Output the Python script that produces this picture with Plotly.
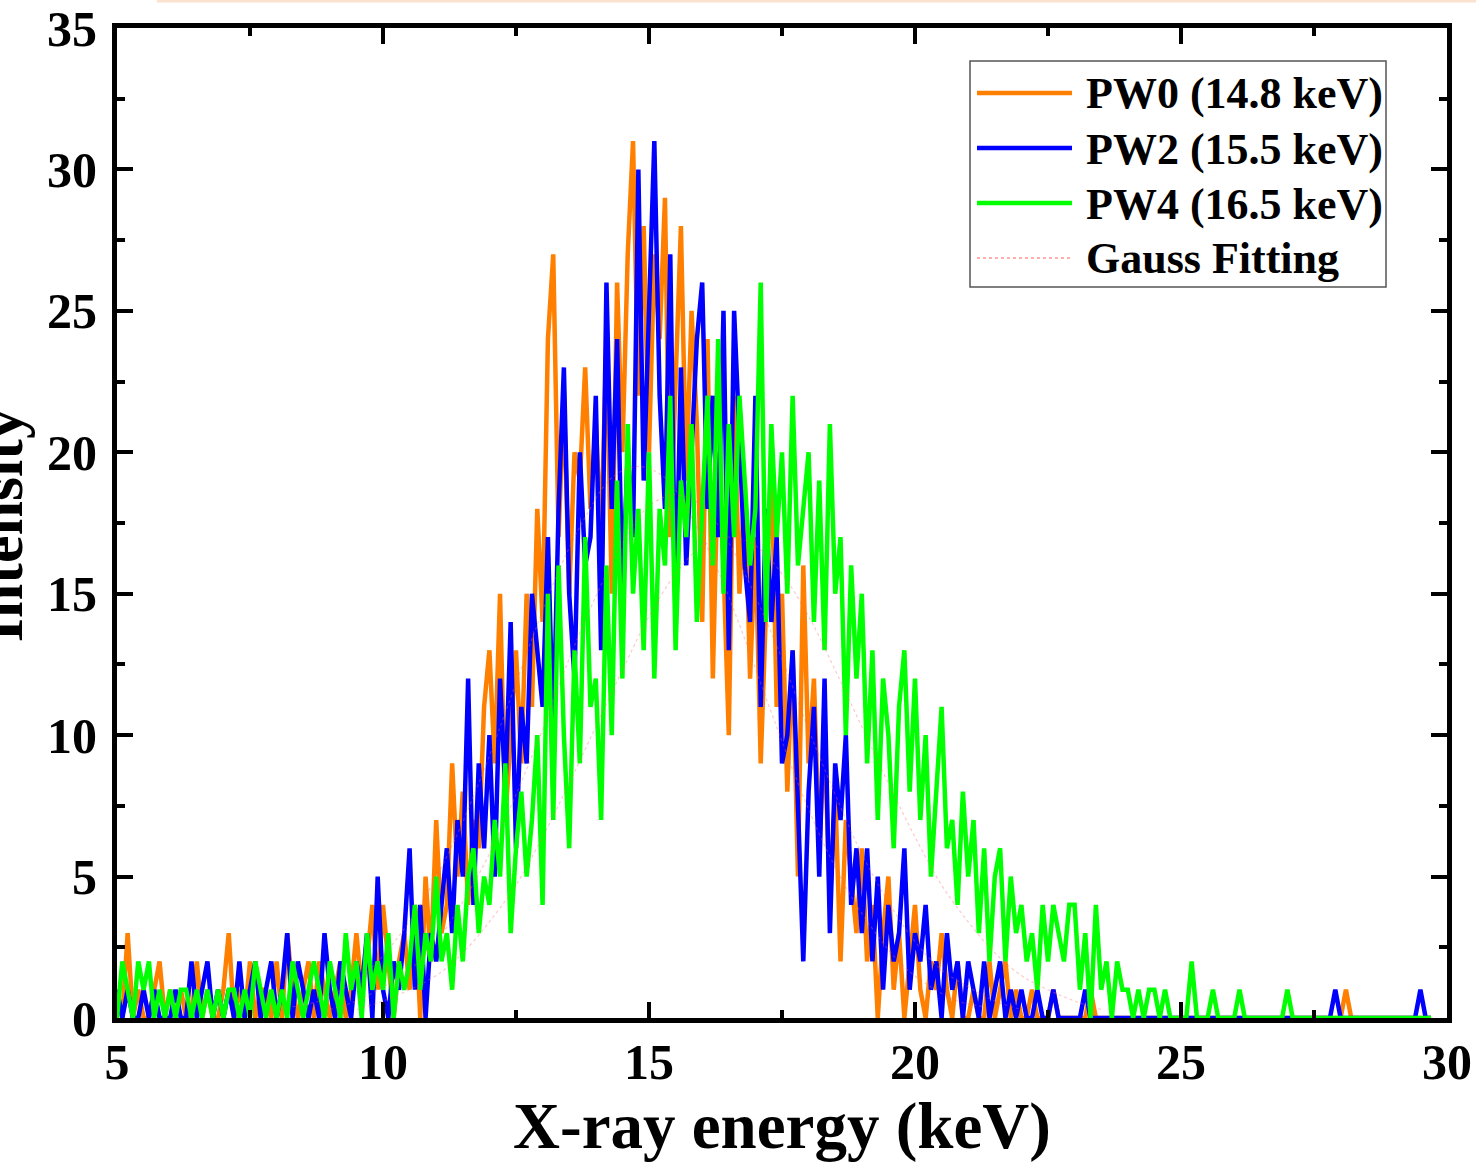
import plotly.graph_objects as go

# ---------------- data ----------------
X_START = 5.0
X_STEP = 0.1

pw0_counts = [
    1,0,3,0,1,0,0,1,2,0,   # 5.0
    1,0,1,0,0,2,0,1,0,0,   # 6.0
    1,3,0,1,0,2,0,1,1,0,   # 7.0
    2,0,3,1,0,1,2,0,2,1,   # 8.0
    0,1,2,0,1,3,1,2,4,1,   # 9.0
    4,2,0,2,3,1,4,0,5,2,   # 10.0
    7,3,4,9,5,8,4,7,6,11,  # 11.0
    13,9,15,7,10,13,9,15,11,18,   # 12.0
    14,24,27,17,22,15,20,19,23,18,  # 13.0
    21,17,24,15,26,20,27,31,22,28,  # 14.0
    20,27,24,29,17,22,28,19,25,21,  # 15.0
    14,24,12,20,16,10,22,15,19,12,  # 16.0
    17,9,14,20,11,15,8,13,5,16,     # 17.0
    9,12,6,10,4,8,2,7,5,3,          # 18.0
    6,2,4,0,3,5,1,3,0,2,            # 19.0
    4,1,0,2,1,3,1,0,2,0,            # 20.0
    0,1,0,0,2,0,1,2,0,1,            # 21.0
    0,0,1,0,0,0,1,0,0,0,            # 22.0
    0,0,0,1,0,0,0,0,0,0,            # 23.0
    0,0,0,0,0,0,0,0,0,0,            # 24.0
    0,0,0,0,0,0,0,0,0,0,            # 25.0
    0,0,0,0,0,0,0,0,0,0,            # 26.0
    0,0,0,0,0,0,0,0,0,0,            # 27.0
    0,1,0,0,0,0,0,0,0,0,            # 28.0
    0,0,0,0,0,0,0,0,                # 29.0
]

pw2_counts = [
    1,0,1,0,0,1,0,1,0,0,   # 5.0
    0,1,0,0,2,0,1,2,0,1,   # 6.0
    0,1,0,2,0,1,2,0,1,2,   # 7.0
    0,1,3,0,2,1,0,1,0,3,   # 8.0
    1,0,2,1,0,2,1,3,0,5,   # 9.0
    1,0,2,1,3,6,1,4,0,3,   # 10.0
    2,4,6,3,7,5,12,4,9,6,  # 11.0
    10,5,12,8,14,6,11,9,15,13,     # 12.0
    11,17,10,18,23,15,12,20,16,17, # 13.0
    22,13,26,18,24,15,20,17,30,19, # 14.0
    25,31,22,18,27,14,23,16,20,24, # 15.0
    26,18,22,17,25,13,25,20,16,14, # 16.0
    22,11,18,14,17,9,10,13,7,2,    # 17.0
    8,11,5,12,3,9,7,10,4,6,        # 18.0
    3,6,2,5,1,4,2,3,6,1,           # 19.0
    3,2,4,1,2,0,3,1,2,0,           # 20.0
    2,1,0,2,0,1,2,0,1,0,           # 21.0
    1,0,0,1,0,0,1,0,0,0,           # 22.0
    0,0,1,0,0,0,0,0,0,0,           # 23.0
    0,0,0,0,0,0,0,0,0,0,           # 24.0
    0,0,0,0,0,0,0,0,0,0,           # 25.0
    0,0,0,0,0,0,0,0,0,0,           # 26.0
    0,0,0,0,0,0,0,0,0,1,           # 27.0
    0,0,0,0,0,0,0,0,0,0,           # 28.0
    0,0,0,0,0,1,0,0,               # 29.0
]

pw4_counts = [
    0,2,1,0,2,1,2,0,1,0,   # 5.0
    1,0,1,1,0,1,0,1,0,1,   # 6.0
    0,1,1,0,1,0,2,1,0,1,   # 7.0
    0,1,0,2,1,0,1,2,1,0,   # 8.0
    2,1,0,3,1,2,0,3,1,2,   # 9.0
    1,3,0,2,1,2,4,1,3,2,   # 10.0
    5,2,3,1,4,2,5,6,3,5,   # 11.0
    4,7,5,9,3,6,8,5,7,10,  # 12.0
    4,15,7,16,10,6,13,9,17,11,     # 13.0
    12,7,16,10,19,12,21,15,18,13,  # 14.0
    20,12,18,16,22,13,19,17,21,14, # 15.0
    18,22,16,24,15,21,17,22,19,16, # 16.0
    18,26,14,21,17,20,15,22,16,18, # 17.0
    20,14,19,13,21,15,17,10,16,12, # 18.0
    15,9,13,7,12,10,6,11,13,8,     # 19.0
    12,7,10,5,8,11,6,7,4,8,        # 20.0
    5,7,3,6,2,5,6,2,5,3,           # 21.0
    4,2,3,1,4,2,4,3,2,4,           # 22.0
    4,1,3,0,4,1,2,0,2,1,           # 23.0
    1,0,1,0,1,1,0,1,0,0,           # 24.0
    0,0,2,0,0,0,1,0,0,0,           # 25.0
    0,1,0,0,0,0,0,0,0,0,           # 26.0
    1,0,0,0,0,0,0,0,0,0,           # 27.0
    0,0,0,0,0,0,0,0,0,0,           # 28.0
    0,0,0,0,0,0,0,0,               # 29.0
]

# Gauss fitting curves (read at 0.5 keV steps)
GAUSS_STEP = 0.5
pw0_fit_start = 8.3
pw0_fit = [0.4,0.6,1.1,1.8,2.9,4.3,6.1,8.3,10.8,13.4,15.8,17.7,19.1,19.5,
           19.1,17.7,15.8,13.4,10.8,8.3,6.1,4.3,2.9,1.8,1.1,0.6,0.4]
pw2_fit_start = 9.0
pw2_fit = [0.3,0.6,1.1,1.7,2.7,4.1,5.8,7.9,10.2,12.7,14.9,16.8,18.1,18.5,
           18.1,16.8,14.9,12.7,10.2,7.9,5.8,4.1,2.7,1.7,1.1,0.6,0.3]
pw4_fit_start = 9.5
pw4_fit = [0.3,0.6,1.0,1.5,2.3,3.4,4.7,6.4,8.3,10.3,12.3,14.2,15.7,16.7,17.0,
           16.7,15.7,14.2,12.3,10.3,8.3,6.4,4.7,3.4,2.3,1.5,1.0,0.6,0.3]

series_names = ["PW0 (14.8 keV)", "PW2 (15.5 keV)", "PW4 (16.5 keV)"]
series_colors = ["#ff7f00", "#0000ff", "#00ff00"]
fit_name = "Gauss Fitting"
fit_color = "rgba(255,100,100,0.35)"

x_ticks = [5, 10, 15, 20, 25, 30]
y_ticks = [0, 5, 10, 15, 20, 25, 30, 35]


def grid(start, step, n):
    return [round(start + step * i, 4) for i in range(n)]


FONT = "Liberation Serif"

# plot-area geometry in pixels (for placing the drawn legend)
L, R, T, B = 117, 1447, 28, 1018


def px(xpix):
    return (xpix - L) / (R - L)


def py(ypix):
    return (B - ypix) / (B - T)


fig = go.Figure()

for name, counts, color in zip(series_names, [pw0_counts, pw2_counts, pw4_counts], series_colors):
    fig.add_trace(go.Scatter(
        x=grid(X_START, X_STEP, len(counts)), y=counts, mode="lines", name=name,
        line=dict(color=color, width=4.5), showlegend=False,
    ))

for start, vals in [(pw0_fit_start, pw0_fit), (pw2_fit_start, pw2_fit), (pw4_fit_start, pw4_fit)]:
    fig.add_trace(go.Scatter(
        x=grid(start, GAUSS_STEP, len(vals)), y=vals, mode="lines", name=fit_name,
        line=dict(color=fit_color, width=1.2, dash="dot", shape="spline"),
        showlegend=False,
    ))

axis_common = dict(
    showline=True, linecolor="black", linewidth=5, mirror="ticks",
    ticks="inside", ticklen=16, tickwidth=4, tickcolor="black",
    showgrid=False, zeroline=False,
    tickfont=dict(family=FONT, size=50, color="black", weight="bold"),
)

fig.update_xaxes(
    range=[5, 30], tickvals=x_ticks, ticktext=[str(v) for v in x_ticks],
    minor=dict(ticks="inside", ticklen=8, tickwidth=4, tickcolor="black", dtick=2.5, tick0=5),
    title=dict(text="X-ray energy (keV)", font=dict(family=FONT, size=65, color="black", weight="bold"), standoff=10),
    ticklabelstandoff=-4,
    **axis_common,
)
fig.update_yaxes(
    range=[0, 35], tickvals=y_ticks, ticktext=[str(v) for v in y_ticks],
    minor=dict(ticks="inside", ticklen=8, tickwidth=4, tickcolor="black", dtick=2.5, tick0=0),
    ticklabelstandoff=5,
    **axis_common,
)

fig.add_annotation(
    text="Intensity", textangle=-90, xref="paper", yref="paper",
    x=-0.087, y=0.498, xanchor="center", yanchor="middle", showarrow=False,
    font=dict(family=FONT, size=62, color="black", weight="bold"),
)

# faint peach line at the very top of the picture
fig.add_shape(type="line", xref="paper", yref="paper", x0=0.030, x1=1.03, y0=1.027, y1=1.027,
              line=dict(color="#fbe2cf", width=2.5))

# legend box drawn in paper coordinates
fig.add_shape(type="rect", xref="paper", yref="paper",
              x0=px(970), x1=px(1386), y0=py(287), y1=py(61),
              line=dict(color="#555555", width=1.5), fillcolor="white", layer="above")
legend_rows = list(zip(series_names + [fit_name], series_colors + [fit_color]))
row_y = [93, 148, 203, 258]
for (label, color), ry in zip(legend_rows, row_y):
    is_fit = label == fit_name
    fig.add_shape(type="line", xref="paper", yref="paper",
                  x0=px(977), x1=px(1072), y0=py(ry), y1=py(ry), layer="above",
                  line=dict(color="rgba(255,120,120,0.6)" if is_fit else color,
                            width=2 if is_fit else 4.5, dash="dot" if is_fit else "solid"))
    fig.add_annotation(text=label, xref="paper", yref="paper", x=px(1084), y=py(ry + 1),
                       xanchor="left", yanchor="middle", showarrow=False,
                       font=dict(family=FONT, size=44, color="black", weight="bold"))

fig.update_layout(
    width=1476, height=1176,
    margin=dict(l=L, r=1476 - R, t=T, b=1176 - B, autoexpand=False),
    paper_bgcolor="white", plot_bgcolor="white",
    font=dict(family=FONT, color="black"),
    showlegend=False,
)

fig.write_html("out.html")
